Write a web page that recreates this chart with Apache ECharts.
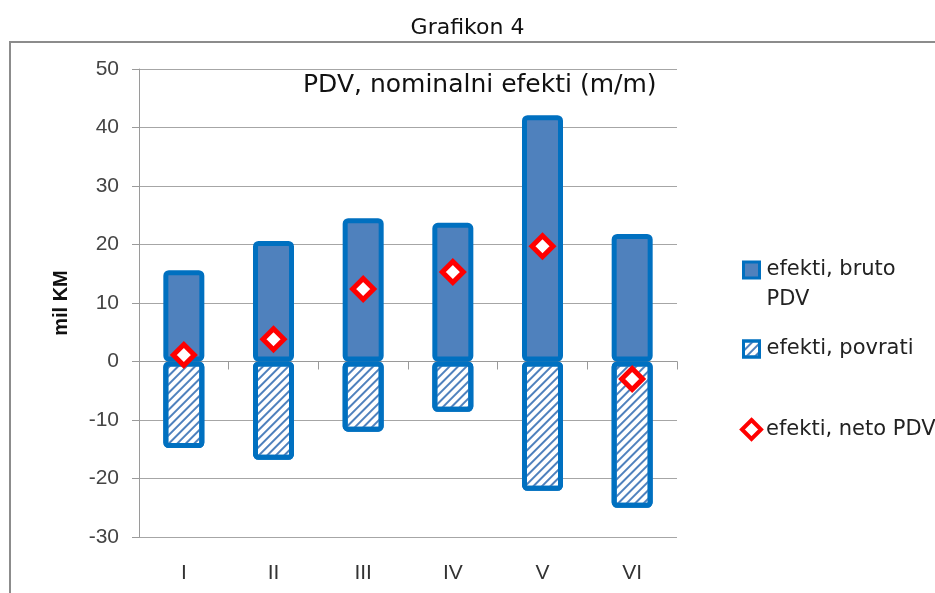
<!DOCTYPE html>
<html>
<head>
<meta charset="utf-8">
<script src="https://cdn.jsdelivr.net/npm/echarts@6/dist/echarts.min.js"></script>
<style>
  html, body { margin: 0; padding: 0; background: #fff; }
  #chart { width: 935px; height: 593px; }
</style>
</head>
<body>
<div id="chart"></div>
<script>
// podaci (mil KM)
const months = ['I', 'II', 'III', 'IV', 'V', 'VI']
const bruto = [15.6, 20.6, 24.5, 23.7, 42.1, 21.8]
const povrati = [-14.8, -16.8, -12.0, -8.6, -22.1, -25.0]
const neto = [1.1, 3.8, 12.4, 15.3, 19.7, -3.0]
const yTicks = { min: -30, max: 50, step: 10 }

const BLUE_FILL = '#4f81bd'
const BLUE_EDGE = '#0070c0'
const tickFont = 'Liberation Sans'
const textFont = 'DejaVu Sans'

const chart = echarts.init(document.getElementById('chart'))

const option = {
  backgroundColor: '#fff',
  animation: false,
  title: [
    {
      text: 'Grafikon 4',
      left: 'center',
      top: 12,
      textStyle: { fontFamily: textFont, fontSize: 22, fontWeight: 'normal', color: '#111' }
    },
    {
      text: 'PDV, nominalni efekti (m/m)',
      left: 298,
      top: 68,
      textStyle: { fontFamily: textFont, fontSize: 25, fontWeight: 'normal', color: '#111' }
    }
  ],
  graphic: [
    {
      type: 'rect',
      shape: { x: 10, y: 42, width: 1000, height: 600 },
      style: { fill: 'none', stroke: '#8c8c8c', lineWidth: 2 },
      silent: true
    }
  ],
  legend: [
    {
      data: [{ name: 'efekti, bruto PDV', icon: 'rect' }],
      orient: 'vertical',
      left: 742,
      top: 225,
      padding: 0,
      itemWidth: 16,
      itemHeight: 16,
      itemStyle: { borderWidth: 3 },
      // prazan prvi red da ikona stoji uz prvi red teksta
      formatter: () => '\u00a0\nefekti, bruto\nPDV',
      textStyle: { fontFamily: textFont, fontSize: 21, color: '#222', lineHeight: 30, padding: [0, 0, 0, 2] }
    },
    {
      data: [{ name: 'efekti, povrati', icon: 'rect' }],
      orient: 'vertical',
      left: 742,
      top: 338,
      padding: 0,
      itemWidth: 16,
      itemHeight: 16,
      itemStyle: { borderWidth: 3 },
      textStyle: { fontFamily: textFont, fontSize: 21, color: '#222', lineHeight: 22, padding: [0, 0, 0, 2] }
    },
    {
      data: [{ name: 'efekti, neto PDV', icon: 'diamond' }],
      orient: 'vertical',
      left: 740,
      top: 418,
      padding: 0,
      itemWidth: 19,
      itemHeight: 19,
      itemStyle: { borderWidth: 4 },
      textStyle: { fontFamily: textFont, fontSize: 21, color: '#222', lineHeight: 22, padding: [0, 0, 0, 0] }
    }
  ],
  grid: { left: 139, right: 258, top: 69, bottom: 56 },
  xAxis: [
    {
      type: 'category',
      data: months,
      position: 'bottom',
      axisLine: { onZero: false, show: false },
      axisTick: { show: false },
      axisLabel: { fontFamily: tickFont, fontSize: 21, color: '#333', margin: 26 }
    },
    {
      type: 'category',
      data: months,
      position: 'bottom',
      axisLine: { onZero: true, lineStyle: { color: '#9a9a9a', width: 1 } },
      axisTick: { show: true, length: 8, lineStyle: { color: '#9a9a9a' } },
      axisLabel: { show: false }
    }
  ],
  yAxis: {
    type: 'value',
    min: yTicks.min,
    max: yTicks.max,
    interval: yTicks.step,
    name: 'mil KM',
    nameLocation: 'middle',
    nameGap: 68,
    nameTextStyle: { fontFamily: tickFont, fontSize: 20, fontWeight: 'bold', color: '#111' },
    axisLine: { show: true, lineStyle: { color: '#9a9a9a' } },
    axisTick: { show: true, length: 7, lineStyle: { color: '#9a9a9a' } },
    axisLabel: { fontFamily: tickFont, fontSize: 21, color: '#444', margin: 20 },
    splitLine: { lineStyle: { color: '#a6a6a6', width: 1 } }
  },
  series: [
    {
      name: 'efekti, bruto PDV',
      type: 'bar',
      stack: 'pdv',
      xAxisIndex: 0,
      barWidth: 41,
      data: bruto,
      itemStyle: { color: BLUE_FILL, borderColor: BLUE_EDGE, borderWidth: 5, borderRadius: 3 }
    },
    {
      name: 'efekti, povrati',
      type: 'bar',
      stack: 'pdv',
      xAxisIndex: 0,
      barWidth: 41,
      data: povrati,
      itemStyle: {
        color: '#fff',
        borderColor: BLUE_EDGE,
        borderWidth: 5,
        borderRadius: 3,
        decal: {
          symbol: 'rect',
          symbolSize: 1,
          dashArrayX: [1, 0],
          dashArrayY: [2, 4],
          rotation: -Math.PI / 4,
          color: BLUE_FILL
        }
      }
    },
    {
      name: 'efekti, neto PDV',
      type: 'scatter',
      xAxisIndex: 0,
      symbol: 'diamond',
      symbolSize: 21,
      data: neto,
      z: 5,
      itemStyle: { color: '#fff', borderColor: '#ff0000', borderWidth: 5, opacity: 1 }
    }
  ]
}

chart.setOption(option)
</script>
</body>
</html>
